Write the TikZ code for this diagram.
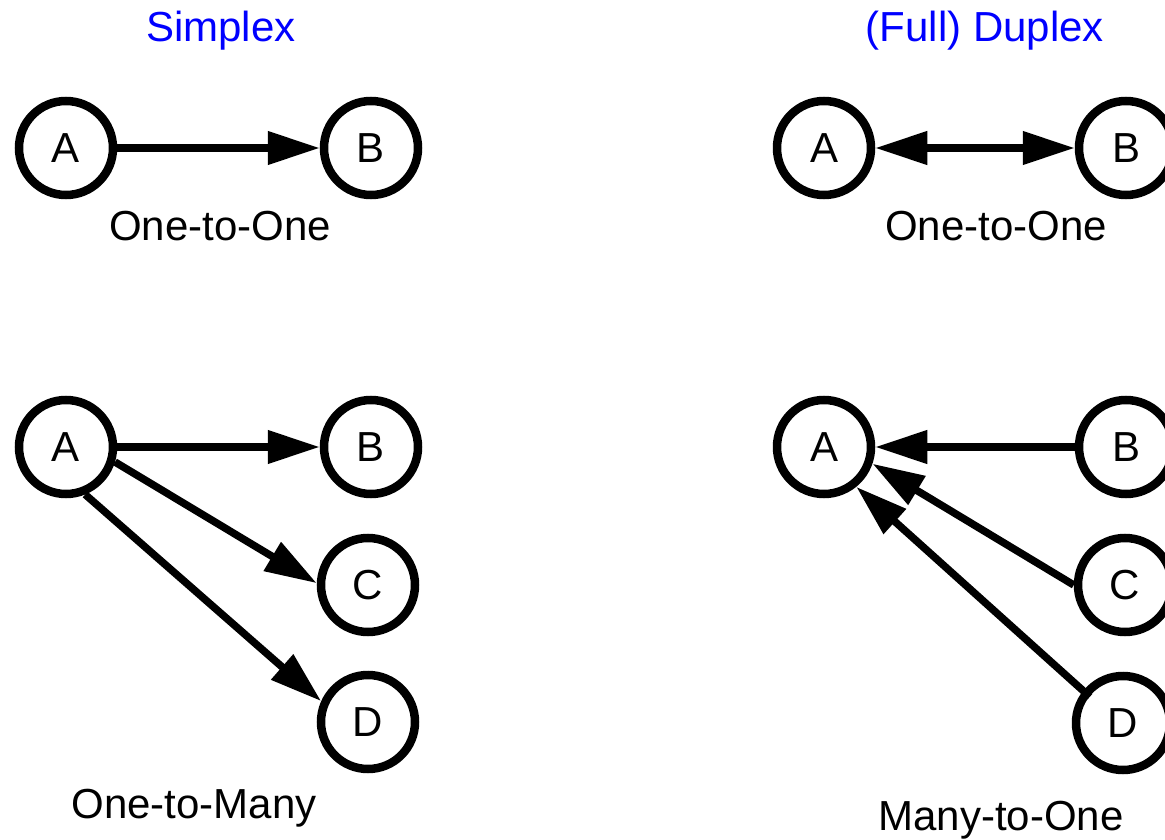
\documentclass[tikz,border=0pt]{standalone}
\usepackage{fontspec}
\setmainfont{Liberation Sans}
\usetikzlibrary{arrows.meta}
\definecolor{titleblue}{RGB}{0,0,255}
\tikzset{
  station/.style={circle, draw=black, line width=8.5pt, minimum size=94pt, inner sep=0pt,
    font=\fontsize{42}{50}\selectfont},
  link/.style={line width=7.5pt, -{Triangle[length=52pt,width=32pt]}},
  duallink/.style={line width=7.5pt, {Triangle[length=52pt,width=32pt]}-{Triangle[length=52pt,width=32pt]}},
  title/.style={anchor=base, text=titleblue, font=\fontsize{42}{50}\selectfont, inner sep=0pt},
  caption/.style={anchor=base, text=black, font=\fontsize{42}{50}\selectfont, inner sep=0pt}
}
\begin{document}
\begin{tikzpicture}[x=1pt,y=-1pt]
\useasboundingbox (0,0) rectangle (1165,840);
\clip (0,0) rectangle (1165,840);
% titles
\node[title] (tS) at (221,42) {Simplex};
\node[title] (tD) at (985,42) {(Full) Duplex};
% simplex one-to-one
\node[station] (A1) at (66,148) {A};
\node[station] (B1) at (371,148) {B};
\draw[link] (A1) -- (B1);
\node[caption] (c1) at (220,240) {One-to-One};
% duplex one-to-one
\node[station] (A3) at (824,148) {A};
\node[station] (B3) at (1126,148) {B};
\draw[duallink] (A3) -- (B3);
\node[caption] (c3) at (996,240) {One-to-One};
% one-to-many
\node[station] (A2) at (66,447) {A};
\node[station] (B2) at (371,447) {B};
\node[station] (C2) at (368,585) {C};
\node[station] (D2) at (368,722) {D};
\draw[link] (A2) -- (B2);
\draw[link] (A2.-17) -- (C2.178);
\draw[link] (A2.-68) -- (D2.156);
\node[caption] (c2) at (194,818) {One-to-Many};
% many-to-one
\node[station] (A4) at (824,447) {A};
\node[station] (B4) at (1126,447) {B};
\node[station] (C4) at (1125,585) {C};
\node[station] (D4) at (1123,723) {D};
\draw[link] (B4) -- (A4);
\draw[link] (C4.180) -- (A4.-19);
\draw[link, shorten <=-9pt] (D4.141) -- (A4.-51);
\node[caption] (c4) at (1001,830) {Many-to-One};
\end{tikzpicture}
\end{document}
